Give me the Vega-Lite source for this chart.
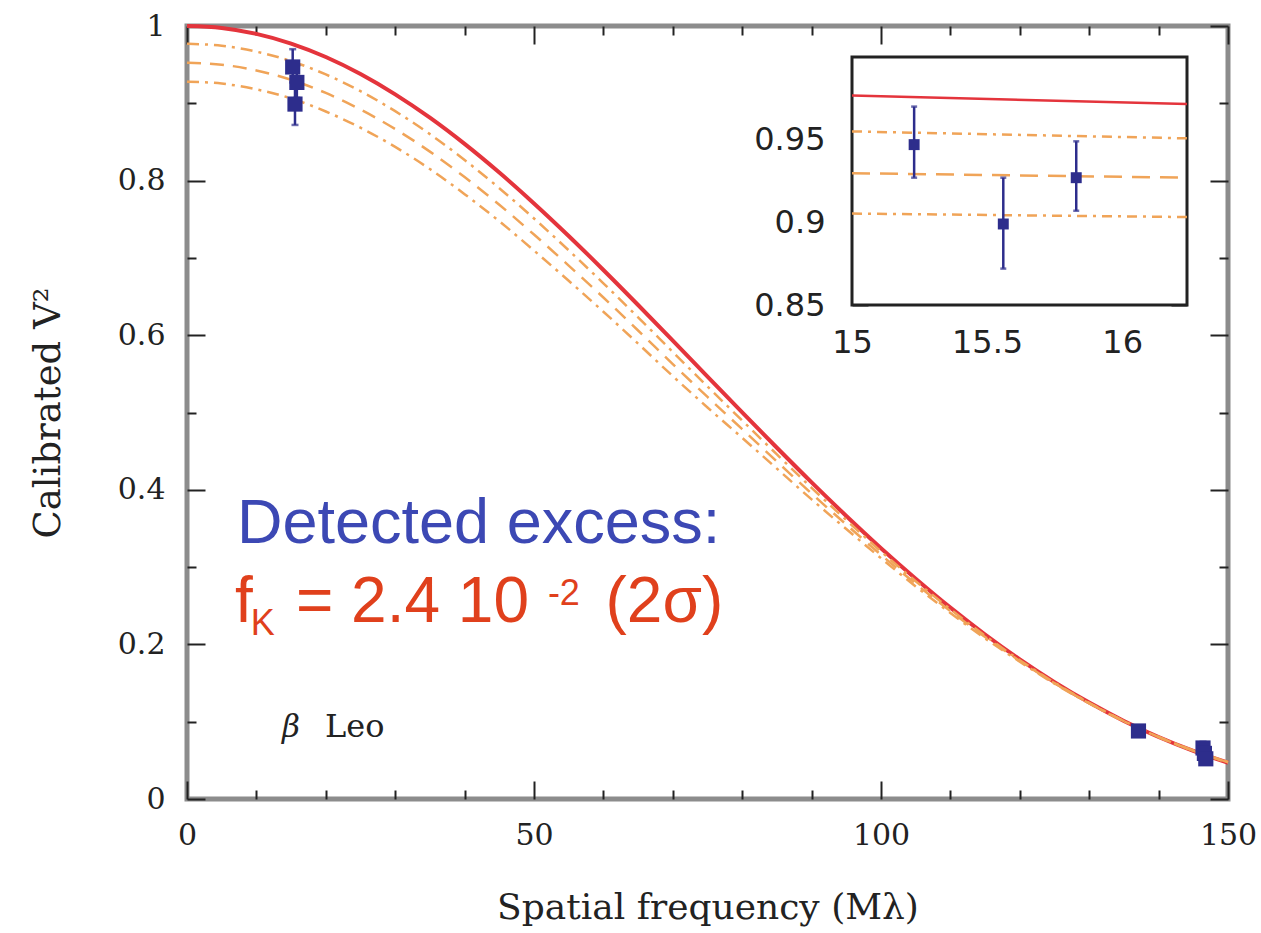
{
  "$schema": "https://vega.github.io/schema/vega-lite/v6.json",
  "width": 1041,
  "height": 773,
  "autosize": "none",
  "padding": {"left": 187, "top": 26, "right": 33, "bottom": 134},
  "background": "white",
  "config": {
    "view": {"stroke": "#8c8c8c", "strokeWidth": 5},
    "axis": {"grid": false, "domain": false, "zindex": 1, "tickColor": "#222222", "tickWidth": 2, "labelColor": "#222222", "titleColor": "#222222", "labelFlush": false, "labelOverlap": false, "format": "~r"}
  },
  "datasets": {
    "curves": [
      {"x": 0, "red": 1.0, "dd1": 0.977, "dsh": 0.9525, "dd2": 0.928},
      {"x": 5, "red": 0.9975, "dd1": 0.9745, "dsh": 0.95, "dd2": 0.9255},
      {"x": 10, "red": 0.9898, "dd1": 0.9668, "dsh": 0.9424, "dd2": 0.918},
      {"x": 15, "red": 0.9773, "dd1": 0.9546, "dsh": 0.9304, "dd2": 0.9063},
      {"x": 20, "red": 0.9599, "dd1": 0.9373, "dsh": 0.9134, "dd2": 0.8894},
      {"x": 25, "red": 0.9379, "dd1": 0.9157, "dsh": 0.892, "dd2": 0.8684},
      {"x": 30, "red": 0.9116, "dd1": 0.8898, "dsh": 0.8667, "dd2": 0.8436},
      {"x": 35, "red": 0.8814, "dd1": 0.8601, "dsh": 0.8375, "dd2": 0.8149},
      {"x": 40, "red": 0.8475, "dd1": 0.8267, "dsh": 0.8046, "dd2": 0.7825},
      {"x": 45, "red": 0.8104, "dd1": 0.7902, "dsh": 0.7688, "dd2": 0.7474},
      {"x": 50, "red": 0.7705, "dd1": 0.751, "dsh": 0.7302, "dd2": 0.7095},
      {"x": 55, "red": 0.7284, "dd1": 0.7098, "dsh": 0.6901, "dd2": 0.6704},
      {"x": 60, "red": 0.6844, "dd1": 0.6671, "dsh": 0.6488, "dd2": 0.6304},
      {"x": 65, "red": 0.6391, "dd1": 0.6231, "dsh": 0.6061, "dd2": 0.5891},
      {"x": 70, "red": 0.593, "dd1": 0.5783, "dsh": 0.5626, "dd2": 0.547},
      {"x": 75, "red": 0.5465, "dd1": 0.5337, "dsh": 0.5201, "dd2": 0.5065},
      {"x": 80, "red": 0.5002, "dd1": 0.4896, "dsh": 0.4784, "dd2": 0.4672},
      {"x": 85, "red": 0.4544, "dd1": 0.4458, "dsh": 0.4366, "dd2": 0.4274},
      {"x": 90, "red": 0.4096, "dd1": 0.4026, "dsh": 0.3951, "dd2": 0.3876},
      {"x": 95, "red": 0.3662, "dd1": 0.3608, "dsh": 0.355, "dd2": 0.3492},
      {"x": 100, "red": 0.3245, "dd1": 0.3203, "dsh": 0.3159, "dd2": 0.3115},
      {"x": 105, "red": 0.285, "dd1": 0.2818, "dsh": 0.2784, "dd2": 0.275},
      {"x": 110, "red": 0.2476, "dd1": 0.2454, "dsh": 0.243, "dd2": 0.2406},
      {"x": 115, "red": 0.2128, "dd1": 0.2112, "dsh": 0.2095, "dd2": 0.2078},
      {"x": 120, "red": 0.1806, "dd1": 0.1796, "dsh": 0.1786, "dd2": 0.1776},
      {"x": 125, "red": 0.1512, "dd1": 0.1506, "dsh": 0.1499, "dd2": 0.1492},
      {"x": 130, "red": 0.1247, "dd1": 0.1244, "dsh": 0.124, "dd2": 0.1237},
      {"x": 135, "red": 0.101, "dd1": 0.1008, "dsh": 0.1007, "dd2": 0.1005},
      {"x": 140, "red": 0.0802, "dd1": 0.0802, "dsh": 0.0802, "dd2": 0.0802},
      {"x": 145, "red": 0.0622, "dd1": 0.0624, "dsh": 0.0625, "dd2": 0.0627},
      {"x": 150, "red": 0.0469, "dd1": 0.0472, "dsh": 0.0476, "dd2": 0.0479}
    ],
    "insetCurves": [
      {"x": 15, "red": 0.9767, "dd1": 0.955, "dsh": 0.9297, "dd2": 0.9053},
      {"x": 16.24, "red": 0.9716, "dd1": 0.9508, "dsh": 0.927, "dd2": 0.9032}
    ],
    "pts": [
      {"x": 15.23, "v": 0.947, "lo": 0.927, "hi": 0.97},
      {"x": 15.56, "v": 0.899, "lo": 0.872, "hi": 0.927},
      {"x": 15.83, "v": 0.927, "lo": 0.907, "hi": 0.949},
      {"x": 137.1, "v": 0.088, "lo": 0.085, "hi": 0.091},
      {"x": 146.4, "v": 0.066, "lo": 0.06, "hi": 0.074},
      {"x": 146.6, "v": 0.059, "lo": 0.054, "hi": 0.065},
      {"x": 146.8, "v": 0.052, "lo": 0.047, "hi": 0.057}
    ]
  },
  "layer": [
    {
      "layer": [
        {
          "data": {"name": "curves"},
          "mark": {"type": "line", "color": "#e4343c", "strokeWidth": 4, "interpolate": "monotone"},
          "encoding": {
            "x": {"field": "x", "type": "quantitative", "scale": {"domain": [0, 150], "nice": false, "zero": false},
              "axis": {"orient": "bottom", "values": [0, 50, 100, 150], "tickSize": -18, "labelPadding": 39, "labelFont": "DejaVu Serif", "labelFontSize": 30, "title": "Spatial frequency (Mλ)", "titleFont": "DejaVu Serif", "titleFontSize": 36, "titleFontWeight": "normal", "titlePadding": 40}},
            "y": {"field": "red", "type": "quantitative", "scale": {"domain": [0, 1], "nice": false, "zero": false},
              "axis": {"orient": "left", "values": [0, 0.2, 0.4, 0.6, 0.8, 1], "tickSize": -18, "labelPadding": 40, "labelFont": "DejaVu Serif", "labelFontSize": 30, "title": "Calibrated V²", "titleFont": "DejaVu Serif", "titleFontSize": 37, "titleFontWeight": "normal", "titlePadding": 50}}
          }
        },
        {
          "data": {"name": "curves"},
          "mark": {"type": "line", "color": "#f0a458", "strokeWidth": 2.5, "strokeDash": [12, 6, 3, 6], "interpolate": "monotone"},
          "encoding": {
            "x": {"field": "x", "type": "quantitative", "scale": {"domain": [0, 150], "nice": false, "zero": false},
              "axis": {"orient": "top", "values": [0, 50, 100, 150], "tickSize": -18, "labels": false, "title": null}},
            "y": {"field": "dd1", "type": "quantitative", "scale": {"domain": [0, 1], "nice": false, "zero": false},
              "axis": {"orient": "right", "values": [0, 0.2, 0.4, 0.6, 0.8, 1], "tickSize": -18, "labels": false, "title": null}}
          }
        },
        {
          "data": {"name": "curves"},
          "mark": {"type": "line", "color": "#f0a458", "strokeWidth": 2.5, "strokeDash": [14, 9], "interpolate": "monotone"},
          "encoding": {
            "x": {"field": "x", "type": "quantitative", "scale": {"domain": [0, 150], "nice": false, "zero": false},
              "axis": {"orient": "bottom", "values": [10, 20, 30, 40, 60, 70, 80, 90, 110, 120, 130, 140], "tickSize": -9, "labels": false, "title": null}},
            "y": {"field": "dsh", "type": "quantitative", "scale": {"domain": [0, 1], "nice": false, "zero": false},
              "axis": {"orient": "left", "values": [0.1, 0.3, 0.5, 0.7, 0.9], "tickSize": -9, "labels": false, "title": null}}
          }
        },
        {
          "data": {"name": "curves"},
          "mark": {"type": "line", "color": "#f0a458", "strokeWidth": 2.5, "strokeDash": [12, 6, 3, 6], "interpolate": "monotone"},
          "encoding": {
            "x": {"field": "x", "type": "quantitative", "scale": {"domain": [0, 150], "nice": false, "zero": false},
              "axis": {"orient": "top", "values": [10, 20, 30, 40, 60, 70, 80, 90, 110, 120, 130, 140], "tickSize": -9, "labels": false, "title": null}},
            "y": {"field": "dd2", "type": "quantitative", "scale": {"domain": [0, 1], "nice": false, "zero": false},
              "axis": {"orient": "right", "values": [0.1, 0.3, 0.5, 0.7, 0.9], "tickSize": -9, "labels": false, "title": null}}
          }
        },
        {
          "data": {"name": "pts"},
          "mark": {"type": "rule", "color": "#2d2d8c", "strokeWidth": 2.5},
          "encoding": {
            "x": {"field": "x", "type": "quantitative", "scale": {"domain": [0, 150], "nice": false, "zero": false}, "axis": null},
            "y": {"field": "lo", "type": "quantitative", "scale": {"domain": [0, 1], "nice": false, "zero": false}, "axis": null},
            "y2": {"field": "hi"}
          }
        },
        {
          "data": {"name": "pts"},
          "mark": {"type": "tick", "orient": "horizontal", "color": "#2d2d8c", "size": 7, "thickness": 2.5},
          "encoding": {
            "x": {"field": "x", "type": "quantitative", "scale": {"domain": [0, 150], "nice": false, "zero": false}, "axis": null},
            "y": {"field": "lo", "type": "quantitative", "scale": {"domain": [0, 1], "nice": false, "zero": false}, "axis": null}
          }
        },
        {
          "data": {"name": "pts"},
          "mark": {"type": "tick", "orient": "horizontal", "color": "#2d2d8c", "size": 7, "thickness": 2.5},
          "encoding": {
            "x": {"field": "x", "type": "quantitative", "scale": {"domain": [0, 150], "nice": false, "zero": false}, "axis": null},
            "y": {"field": "hi", "type": "quantitative", "scale": {"domain": [0, 1], "nice": false, "zero": false}, "axis": null}
          }
        },
        {
          "data": {"name": "pts"},
          "mark": {"type": "point", "shape": "square", "filled": true, "color": "#2d2d8c", "opacity": 1, "size": 230},
          "encoding": {
            "x": {"field": "x", "type": "quantitative", "scale": {"domain": [0, 150], "nice": false, "zero": false}, "axis": null},
            "y": {"field": "v", "type": "quantitative", "scale": {"domain": [0, 1], "nice": false, "zero": false}, "axis": null}
          }
        },
        {
          "data": {"values": [{"t": "Detected excess:"}]},
          "mark": {"type": "text", "align": "left", "baseline": "alphabetic", "font": "Liberation Sans", "fontSize": 63, "color": "#3c48b4"},
          "encoding": {
            "text": {"field": "t"},
            "x": {"datum": 7.2, "type": "quantitative", "scale": {"domain": [0, 150], "nice": false, "zero": false}, "axis": null},
            "y": {"datum": 0.3308, "type": "quantitative", "scale": {"domain": [0, 1], "nice": false, "zero": false}, "axis": null}
          }
        },
        {
          "data": {"values": [{"t": "f"}]},
          "mark": {"type": "text", "align": "left", "baseline": "alphabetic", "font": "Liberation Sans", "fontSize": 64, "color": "#e0401c"},
          "encoding": {
            "text": {"field": "t"},
            "x": {"datum": 6.9, "type": "quantitative", "scale": {"domain": [0, 150], "nice": false, "zero": false}, "axis": null},
            "y": {"datum": 0.2294, "type": "quantitative", "scale": {"domain": [0, 1], "nice": false, "zero": false}, "axis": null}
          }
        },
        {
          "data": {"values": [{"t": "K"}]},
          "mark": {"type": "text", "align": "left", "baseline": "alphabetic", "font": "Liberation Sans", "fontSize": 36, "color": "#e0401c"},
          "encoding": {
            "text": {"field": "t"},
            "x": {"datum": 9.2, "type": "quantitative", "scale": {"domain": [0, 150], "nice": false, "zero": false}, "axis": null},
            "y": {"datum": 0.2122, "type": "quantitative", "scale": {"domain": [0, 1], "nice": false, "zero": false}, "axis": null}
          }
        },
        {
          "data": {"values": [{"t": "= 2.4 10"}]},
          "mark": {"type": "text", "align": "left", "baseline": "alphabetic", "font": "Liberation Sans", "fontSize": 64, "color": "#e0401c"},
          "encoding": {
            "text": {"field": "t"},
            "x": {"datum": 15.7, "type": "quantitative", "scale": {"domain": [0, 150], "nice": false, "zero": false}, "axis": null},
            "y": {"datum": 0.2294, "type": "quantitative", "scale": {"domain": [0, 1], "nice": false, "zero": false}, "axis": null}
          }
        },
        {
          "data": {"values": [{"t": "-2"}]},
          "mark": {"type": "text", "align": "left", "baseline": "alphabetic", "font": "Liberation Sans", "fontSize": 36, "color": "#e0401c"},
          "encoding": {
            "text": {"field": "t"},
            "x": {"datum": 52.0, "type": "quantitative", "scale": {"domain": [0, 150], "nice": false, "zero": false}, "axis": null},
            "y": {"datum": 0.251, "type": "quantitative", "scale": {"domain": [0, 1], "nice": false, "zero": false}, "axis": null}
          }
        },
        {
          "data": {"values": [{"t": "(2σ)"}]},
          "mark": {"type": "text", "align": "left", "baseline": "alphabetic", "font": "Liberation Sans", "fontSize": 64, "color": "#e0401c"},
          "encoding": {
            "text": {"field": "t"},
            "x": {"datum": 60.3, "type": "quantitative", "scale": {"domain": [0, 150], "nice": false, "zero": false}, "axis": null},
            "y": {"datum": 0.2294, "type": "quantitative", "scale": {"domain": [0, 1], "nice": false, "zero": false}, "axis": null}
          }
        },
        {
          "data": {"values": [{"t": "β"}]},
          "mark": {"type": "text", "align": "left", "baseline": "alphabetic", "font": "DejaVu Serif", "fontStyle": "italic", "fontSize": 31, "color": "#222222"},
          "encoding": {
            "text": {"field": "t"},
            "x": {"datum": 13.7, "type": "quantitative", "scale": {"domain": [0, 150], "nice": false, "zero": false}, "axis": null},
            "y": {"datum": 0.0802, "type": "quantitative", "scale": {"domain": [0, 1], "nice": false, "zero": false}, "axis": null}
          }
        },
        {
          "data": {"values": [{"t": "Leo"}]},
          "mark": {"type": "text", "align": "left", "baseline": "alphabetic", "font": "DejaVu Serif", "fontSize": 32, "color": "#222222"},
          "encoding": {
            "text": {"field": "t"},
            "x": {"datum": 19.9, "type": "quantitative", "scale": {"domain": [0, 150], "nice": false, "zero": false}, "axis": null},
            "y": {"datum": 0.0802, "type": "quantitative", "scale": {"domain": [0, 1], "nice": false, "zero": false}, "axis": null}
          }
        }
      ],
      "resolve": {"axis": {"x": "independent", "y": "independent"}}
    },
    {
      "layer": [
        {
          "data": {"values": [{"frame": "inset"}]},
          "mark": {"type": "rect", "fill": "white", "stroke": "#222222", "strokeWidth": 3},
          "encoding": {
            "x": {"datum": 15, "type": "quantitative", "scale": {"domain": [15, 16.24], "range": [665, 1000], "nice": false, "zero": false},
              "axis": {"orient": "bottom", "offset": -494, "values": [15, 15.5, 16], "tickSize": -16, "labelPadding": 38, "labelFont": "DejaVu Sans", "labelFontSize": 32, "title": null}},
            "x2": {"datum": 16.24},
            "y": {"datum": 0.85, "type": "quantitative", "scale": {"domain": [0.85, 1.0], "range": [279, 31], "nice": false, "zero": false},
              "axis": {"orient": "left", "offset": -665, "values": [0.85, 0.9, 0.95], "tickSize": -16, "labelPadding": 43, "labelFont": "DejaVu Sans", "labelFontSize": 32, "title": null}},
            "y2": {"datum": 1.0}
          }
        },
        {
          "data": {"name": "insetCurves"},
          "mark": {"type": "line", "color": "#e4343c", "strokeWidth": 2.5},
          "encoding": {
            "x": {"field": "x", "type": "quantitative", "scale": {"domain": [15, 16.24], "range": [665, 1000], "nice": false, "zero": false},
              "axis": {"orient": "top", "offset": -31, "values": [15, 15.5, 16], "tickSize": -16, "labels": false, "title": null}},
            "y": {"field": "red", "type": "quantitative", "scale": {"domain": [0.85, 1.0], "range": [279, 31], "nice": false, "zero": false},
              "axis": {"orient": "right", "offset": -41, "values": [0.85, 0.9, 0.95], "tickSize": -16, "labels": false, "title": null}}
          }
        },
        {
          "data": {"name": "insetCurves"},
          "mark": {"type": "line", "color": "#f0a458", "strokeWidth": 2.5, "strokeDash": [10, 6, 3, 6]},
          "encoding": {
            "x": {"field": "x", "type": "quantitative", "scale": {"domain": [15, 16.24], "range": [665, 1000], "nice": false, "zero": false},
              "axis": {"orient": "bottom", "offset": -494, "values": [15.0833, 15.1667, 15.25, 15.3333, 15.4167, 15.5833, 15.6667, 15.75, 15.8333, 15.9167, 16.0833, 16.1667], "tickSize": -9, "labels": false, "title": null}},
            "y": {"field": "dd1", "type": "quantitative", "scale": {"domain": [0.85, 1.0], "range": [279, 31], "nice": false, "zero": false},
              "axis": {"orient": "left", "offset": -665, "values": [0.86, 0.87, 0.88, 0.89, 0.91, 0.92, 0.93, 0.94, 0.96, 0.97, 0.98, 0.99], "tickSize": -9, "labels": false, "title": null}}
          }
        },
        {
          "data": {"name": "insetCurves"},
          "mark": {"type": "line", "color": "#f0a458", "strokeWidth": 2.5, "strokeDash": [18, 10]},
          "encoding": {
            "x": {"field": "x", "type": "quantitative", "scale": {"domain": [15, 16.24], "range": [665, 1000], "nice": false, "zero": false},
              "axis": {"orient": "top", "offset": -31, "values": [15.0833, 15.1667, 15.25, 15.3333, 15.4167, 15.5833, 15.6667, 15.75, 15.8333, 15.9167, 16.0833, 16.1667], "tickSize": -9, "labels": false, "title": null}},
            "y": {"field": "dsh", "type": "quantitative", "scale": {"domain": [0.85, 1.0], "range": [279, 31], "nice": false, "zero": false},
              "axis": {"orient": "right", "offset": -41, "values": [0.86, 0.87, 0.88, 0.89, 0.91, 0.92, 0.93, 0.94, 0.96, 0.97, 0.98, 0.99], "tickSize": -9, "labels": false, "title": null}}
          }
        },
        {
          "data": {"name": "insetCurves"},
          "mark": {"type": "line", "color": "#f0a458", "strokeWidth": 2.5, "strokeDash": [10, 6, 3, 6]},
          "encoding": {
            "x": {"field": "x", "type": "quantitative", "scale": {"domain": [15, 16.24], "range": [665, 1000], "nice": false, "zero": false}, "axis": null},
            "y": {"field": "dd2", "type": "quantitative", "scale": {"domain": [0.85, 1.0], "range": [279, 31], "nice": false, "zero": false}, "axis": null}
          }
        },
        {
          "data": {"name": "pts"},
          "transform": [{"filter": "datum.x < 17"}],
          "mark": {"type": "rule", "color": "#2d2d8c", "strokeWidth": 2.5},
          "encoding": {
            "x": {"field": "x", "type": "quantitative", "scale": {"domain": [15, 16.24], "range": [665, 1000], "nice": false, "zero": false}, "axis": null},
            "y": {"field": "lo", "type": "quantitative", "scale": {"domain": [0.85, 1.0], "range": [279, 31], "nice": false, "zero": false}, "axis": null},
            "y2": {"field": "hi"}
          }
        },
        {
          "data": {"name": "pts"},
          "transform": [{"filter": "datum.x < 17"}],
          "mark": {"type": "tick", "orient": "horizontal", "color": "#2d2d8c", "size": 6, "thickness": 2.5},
          "encoding": {
            "x": {"field": "x", "type": "quantitative", "scale": {"domain": [15, 16.24], "range": [665, 1000], "nice": false, "zero": false}, "axis": null},
            "y": {"field": "lo", "type": "quantitative", "scale": {"domain": [0.85, 1.0], "range": [279, 31], "nice": false, "zero": false}, "axis": null}
          }
        },
        {
          "data": {"name": "pts"},
          "transform": [{"filter": "datum.x < 17"}],
          "mark": {"type": "tick", "orient": "horizontal", "color": "#2d2d8c", "size": 6, "thickness": 2.5},
          "encoding": {
            "x": {"field": "x", "type": "quantitative", "scale": {"domain": [15, 16.24], "range": [665, 1000], "nice": false, "zero": false}, "axis": null},
            "y": {"field": "hi", "type": "quantitative", "scale": {"domain": [0.85, 1.0], "range": [279, 31], "nice": false, "zero": false}, "axis": null}
          }
        },
        {
          "data": {"name": "pts"},
          "transform": [{"filter": "datum.x < 17"}],
          "mark": {"type": "point", "shape": "square", "filled": true, "color": "#2d2d8c", "opacity": 1, "size": 120},
          "encoding": {
            "x": {"field": "x", "type": "quantitative", "scale": {"domain": [15, 16.24], "range": [665, 1000], "nice": false, "zero": false}, "axis": null},
            "y": {"field": "v", "type": "quantitative", "scale": {"domain": [0.85, 1.0], "range": [279, 31], "nice": false, "zero": false}, "axis": null}
          }
        }
      ],
      "resolve": {"axis": {"x": "independent", "y": "independent"}}
    }
  ],
  "resolve": {"scale": {"x": "independent", "y": "independent"}, "axis": {"x": "independent", "y": "independent"}}
}
